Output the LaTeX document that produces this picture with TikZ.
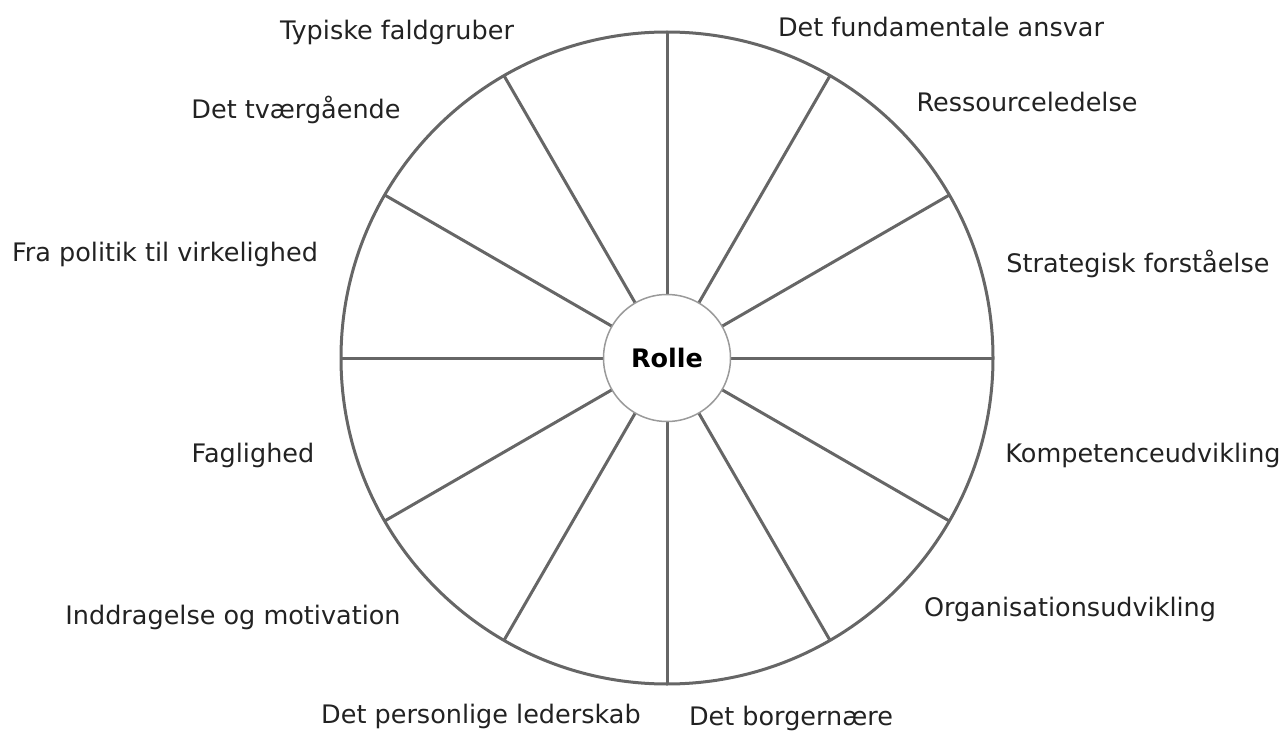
\documentclass[tikz,border=0pt]{standalone}
\usepackage{fontspec}
\setmainfont{DejaVu Sans}
\usetikzlibrary{calc}
\definecolor{spoke}{HTML}{666666}
\definecolor{inner}{HTML}{9A9A9A}
\definecolor{txt}{HTML}{222222}
\begin{document}
\begin{tikzpicture}[x=1pt,y=-1pt,
  lbl/.style={text=txt,font=\fontsize{25.5}{30}\selectfont,inner sep=0pt,anchor=center},
  spk/.style={draw=spoke,line width=3pt},
  hub/.style={circle,draw=inner,line width=1.5pt,fill=white,minimum size=127pt,inner sep=0pt,text=black,font=\fontsize{25.5}{30}\selectfont\bfseries}]
\useasboundingbox (0,0) rectangle (1283,733);
\coordinate (c) at (667,358);
\draw[spk] (c) circle[radius=326];
\foreach \a in {0,30,...,330}{
  \coordinate (o\a) at ($(c)+(\a:326)$);
}
\foreach \a in {0,30,...,330}{
  \draw[spk] (c) -- (o\a);
}
\node[hub] (r) at (c) {Rolle};
\node[lbl] (l1) at (397,32) {Typiske faldgruber};
\node[lbl] (l2) at (941,27) {Det fundamentale ansvar};
\node[lbl] (l3) at (1027,102) {Ressourceledelse};
\node[lbl] (l4) at (296,110) {Det tværgående};
\node[lbl] (l5) at (165,254) {Fra politik til virkelighed};
\node[lbl] (l6) at (1138,264) {Strategisk forståelse};
\node[lbl] (l7) at (253,455) {Faglighed};
\node[lbl] (l8) at (1143,455) {Kompetenceudvikling};
\node[lbl] (l9) at (1070,609) {Organisationsudvikling};
\node[lbl] (l10) at (233,617) {Inddragelse og motivation};
\node[lbl] (l11) at (481,716) {Det personlige lederskab};
\node[lbl] (l12) at (791,718) {Det borgernære};
\end{tikzpicture}
\end{document}
